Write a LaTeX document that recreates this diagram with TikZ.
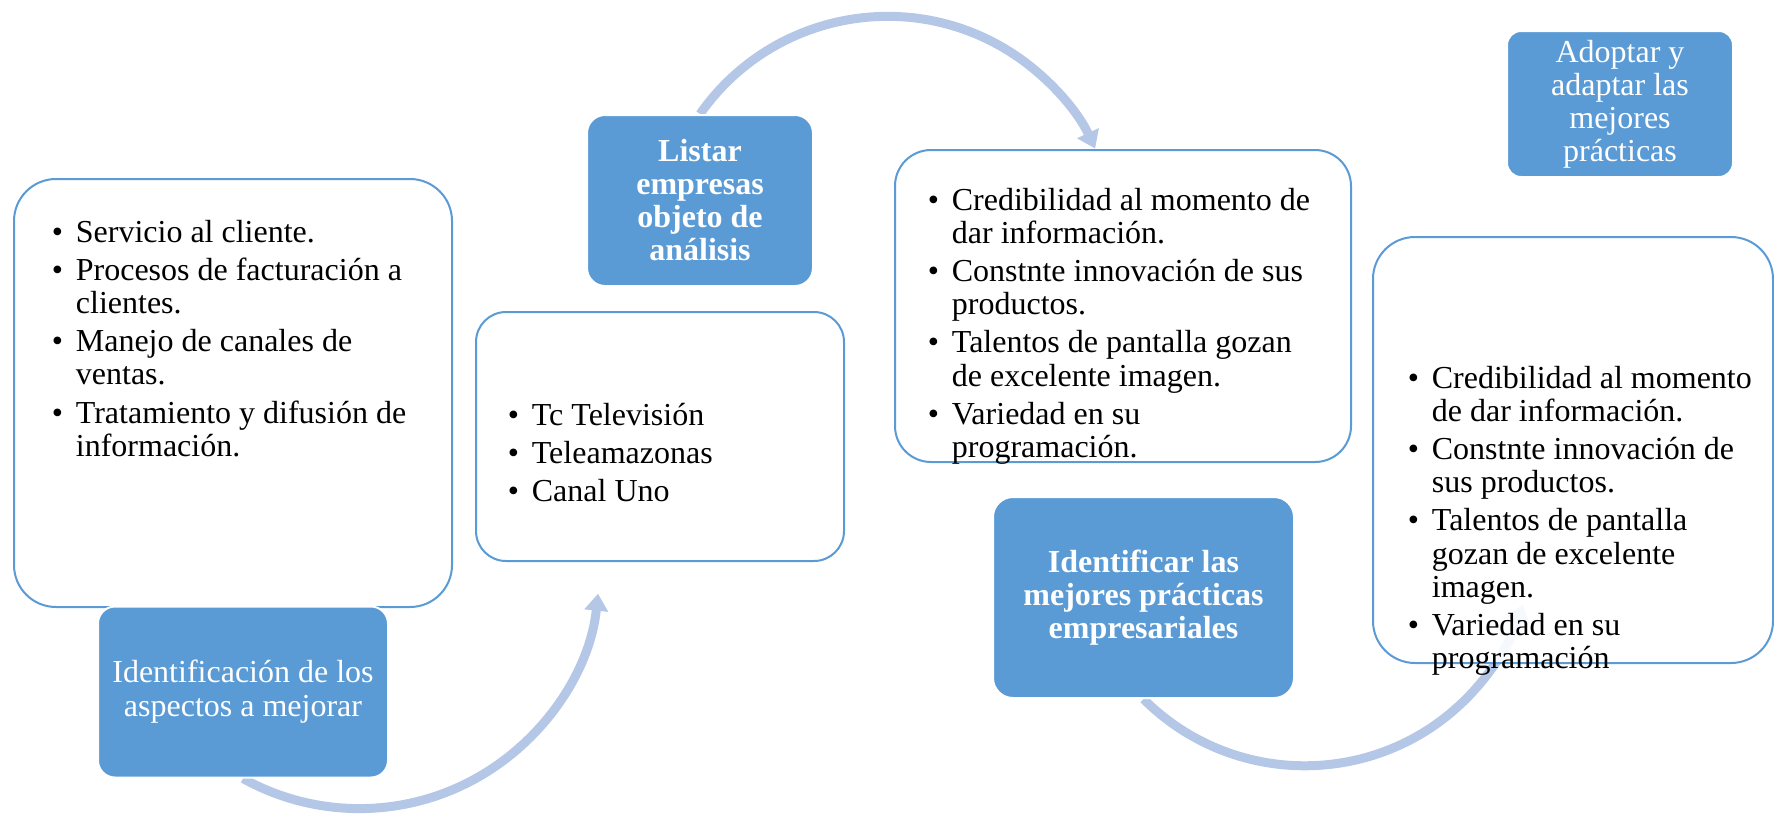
\documentclass[tikz,border=0pt]{standalone}
\usepackage{fontspec}
\setmainfont{Liberation Serif}
\usetikzlibrary{arrows.meta,backgrounds}

\definecolor{accent}{RGB}{91,155,213}
\definecolor{arcblue}{RGB}{180,199,231}
\newcommand{\bul}{\makebox[12pt][l]{\textbullet}}

\begin{document}
\begin{tikzpicture}[
  x=0.5pt, y=0.5pt,
  panel/.style={rectangle, rounded corners=#1, draw=accent, line width=1pt, fill=white},
  stage/.style={rectangle, rounded corners=#1, draw=white, line width=1pt, fill=accent,
    text=white, align=center, inner sep=1pt, font=\fontsize{16}{16.5}\selectfont},
  items/.style={anchor=base west, inner sep=0pt, font=\fontsize{16}{16.6}\selectfont},
  flow/.style={arcblue, line width=4.5pt, -{Triangle[length=8.5pt, width=11.5pt]}}
]
  \useasboundingbox (0,0) rectangle (1774,-816);

  % white panels
  \node[panel=21pt, minimum width=219pt, minimum height=214pt] (mejoras) at (233,-393) {};
  \node[panel=15pt, minimum width=184pt, minimum height=124.5pt] (empresas) at (660,-436.5) {};
  \node[panel=18pt, minimum width=228pt, minimum height=156pt] (practicas) at (1123,-306) {};
  \node[panel=21pt, minimum width=200pt, minimum height=213pt, fill opacity=0.88] (adopcion) at (1573,-450) {};

  % steps of the cycle
  \node[stage=8.5pt, minimum width=145pt, minimum height=85.5pt, font=\fontsize{16}{17}\selectfont]
    (aspectos) at (243,-692) {Identificación de los\\aspectos a mejorar};
  \node[stage=9pt, minimum width=113pt, minimum height=85.5pt, font=\fontsize{16}{16.5}\selectfont\bfseries]
    (listar) at (700,-200.5) {Listar\\empresas\\objeto de\\análisis};
  \node[stage=10pt, minimum width=150.5pt, minimum height=100.5pt, font=\fontsize{16}{16.5}\selectfont\bfseries]
    (identificar) at (1143.5,-597.5) {Identificar las\\mejores prácticas\\empresariales};
  \node[stage=7pt, minimum width=113pt, minimum height=73pt] (adoptar) at (1620,-104)
    {Adoptar y\\adaptar las\\mejores\\prácticas};

  % bullet lists
  \node[items] (lista1) at (51.5,-242) {\begin{tabular}[t]{@{}l@{}l@{}}
    \bul & Servicio al cliente.\\[2.5pt]
    \bul & Procesos de facturación a\\
         & clientes.\\[2.5pt]
    \bul & Manejo de canales de\\
         & ventas.\\[2.5pt]
    \bul & Tratamiento y difusión de\\
         & información.
  \end{tabular}};
  \node[items] (lista2) at (507.5,-425) {\begin{tabular}[t]{@{}l@{}l@{}}
    \bul & Tc Televisión\\[2.5pt]
    \bul & Teleamazonas\\[2.5pt]
    \bul & Canal Uno
  \end{tabular}};
  \node[items] (lista3) at (927.5,-210) {\begin{tabular}[t]{@{}l@{}l@{}}
    \bul & Credibilidad al momento de\\
         & dar información.\\[2.5pt]
    \bul & Constnte innovación de sus\\
         & productos.\\[2.5pt]
    \bul & Talentos de pantalla gozan\\
         & de excelente imagen.\\[2.5pt]
    \bul & Variedad en su\\
         & programación.
  \end{tabular}};
  \node[items] (lista4) at (1407.5,-388) {\begin{tabular}[t]{@{}l@{}l@{}}
    \bul & Credibilidad al momento\\
         & de dar información.\\[2.5pt]
    \bul & Constnte innovación de\\
         & sus productos.\\[2.5pt]
    \bul & Talentos de pantalla\\
         & gozan de excelente\\
         & imagen.\\[2.5pt]
    \bul & Variedad en su\\
         & programación
  \end{tabular}};

  % arcs behind the boxes
  \begin{pgfonlayer}{background}
    \draw[flow] (aspectos.south) arc[start angle=241, end angle=354, radius=120pt];
    \draw[flow] (listar.north) arc[start angle=145, end angle=25, radius=114.5pt];
    \draw[flow] (identificar.south) arc[start angle=225, end angle=343, radius=114pt];
  \end{pgfonlayer}
\end{tikzpicture}
\end{document}
